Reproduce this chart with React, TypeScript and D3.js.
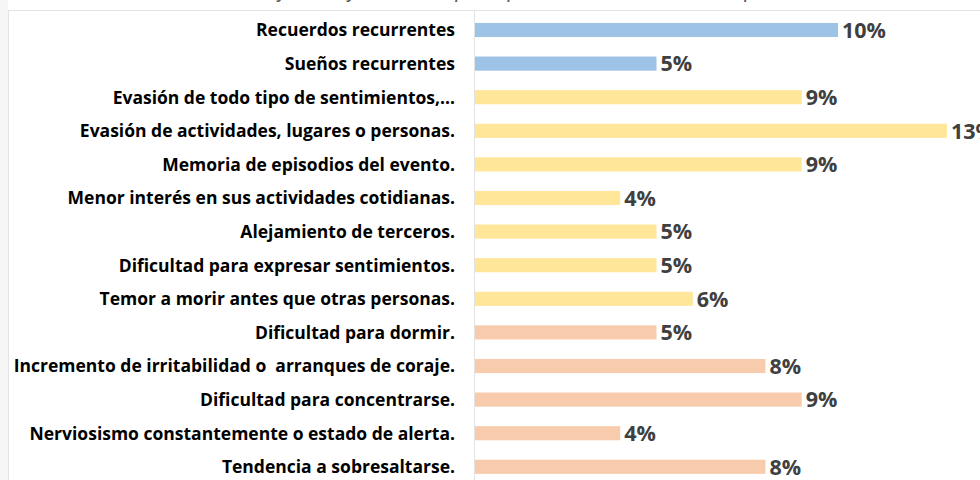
import React from "react";
import * as d3 from "d3";

// categories, top to bottom
const categories = [
  "Recuerdos recurrentes",
  "Sueños recurrentes",
  "Evasión de todo tipo de sentimientos,…",
  "Evasión de actividades, lugares o personas.",
  "Memoria de episodios del evento.",
  "Menor interés en sus actividades cotidianas.",
  "Alejamiento de terceros.",
  "Dificultad para expresar sentimientos.",
  "Temor a morir antes que otras personas.",
  "Dificultad para dormir.",
  "Incremento de irritabilidad o  arranques de coraje.",
  "Dificultad para concentrarse.",
  "Nerviosismo constantemente o estado de alerta.",
  "Tendencia a sobresaltarse.",
];

const values = [0.1, 0.05, 0.09, 0.13, 0.09, 0.04, 0.05, 0.05, 0.06, 0.05, 0.08, 0.09, 0.04, 0.08];

// group of each symptom (reexperiencing / avoidance / arousal)
const groups = ["re", "re", "ev", "ev", "ev", "ev", "ev", "ev", "ev", "hi", "hi", "hi", "hi", "hi"];

const title = "Gráfica de frecuencia por tipo de síntoma de estrés postraumático";

const groupColor: Record<string, string> = {
  re: "#9dc3e6",
  ev: "#ffe699",
  hi: "#f8cbad",
};

const W = 980;
const H = 480;

export default function App() {
  const x = d3.scaleLinear().domain([0, 0.1]).range([475, 838]);
  const y = d3
    .scaleBand()
    .domain(categories)
    .range([13.2, 13.2 + 14 * 33.6])
    .paddingInner(0.58)
    .paddingOuter(0.29);
  const fmt = d3.format(".0%");

  return (
    <svg
      width={W}
      height={H}
      style={{ position: "absolute", left: 0, top: 0, background: "#fff" }}
    >
      <rect x={0} y={0} width={8} height={H} fill="#f6f6f6" />
      <rect x={8.5} y={10.5} width={W + 10} height={H} fill="#fff" stroke="#e3e3e3" />
      {/* title is cut off by the top edge, as in the source screenshot */}
      <text
        x={565}
        y={-3}
        textAnchor="middle"
        fontFamily="'Open Sans', sans-serif"
        fontStyle="italic"
        fontSize={22}
        fill="#595959"
      >
        {title}
      </text>
      <line x1={474.5} x2={474.5} y1={11} y2={H} stroke="#e3e3e3" />
      {categories.map((c, i) => {
        const yy = y(c)!;
        const bh = y.bandwidth();
        return (
          <g key={c}>
            <rect
              x={x(0)}
              y={yy}
              width={x(values[i]) - x(0)}
              height={bh}
              fill={groupColor[groups[i]]}
            />
            <text
              x={455}
              y={yy + bh / 2}
              dy="0.36em"
              textAnchor="end"
              fontFamily="'Open Sans', sans-serif"
              fontWeight="bold"
              fontSize={17.5}
              fill="#000"
              style={{ whiteSpace: "pre" }}
            >
              {c}
            </text>
            <text
              x={x(values[i]) + 4}
              y={yy + bh / 2}
              dy="0.36em"
              fontFamily="'Open Sans', sans-serif"
              fontWeight="bold"
              fontSize={21.5}
              fill="#404040"
            >
              {fmt(values[i])}
            </text>
          </g>
        );
      })}
    </svg>
  );
}
